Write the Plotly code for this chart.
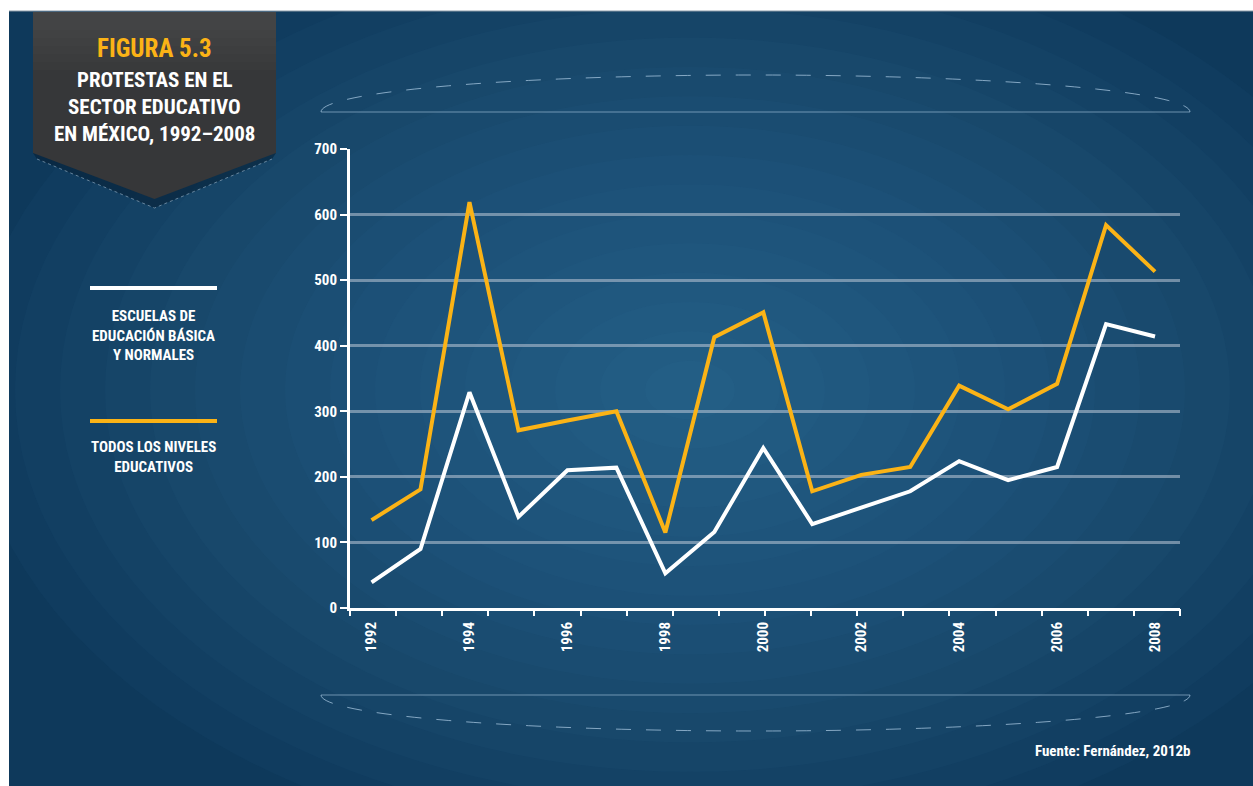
import math
import plotly.graph_objects as go

# ---- data ----
years = list(range(1992, 2009))
escuelas_basica = [39, 90, 329, 139, 210, 214, 53, 116, 244, 128, 153, 178, 224, 195, 215, 433, 414]
todos_niveles = [134, 181, 619, 271, 286, 300, 115, 413, 451, 178, 203, 215, 339, 303, 342, 584, 513]
y_ticks = [0, 100, 200, 300, 400, 500, 600, 700]
x_label_years = [1992, 1994, 1996, 1998, 2000, 2002, 2004, 2006, 2008]
n_minor_ticks = 19

title_top = "FIGURA 5.3"
title_lines = ["PROTESTAS EN EL", "SECTOR EDUCATIVO", "EN MÉXICO, 1992–2008"]
legend1 = "ESCUELAS DE<br>EDUCACIÓN BÁSICA<br>Y NORMALES"
legend2 = "TODOS LOS NIVELES<br>EDUCATIVOS"
source = "Fuente: Fernández, 2012b"

ORANGE = "#fbb316"
WHITE = "#ffffff"
FONT = "Roboto Condensed, Open Sans Condensed, Liberation Sans Narrow, sans-serif"

W, H = 1253, 786
L, R, T, B = 350, 1180, 149, 608  # plot area in pixels


def px(x):
    return (x - L) / (R - L)


def py(y):
    return (B - y) / (B - T)


fig = go.Figure()

fig.add_trace(go.Scatter(x=years, y=escuelas_basica, mode="lines",
                         line=dict(color=WHITE, width=4), name="Escuelas",
                         showlegend=False))
fig.add_trace(go.Scatter(x=years, y=todos_niveles, mode="lines",
                         line=dict(color=ORANGE, width=4), name="Todos",
                         showlegend=False))
# helper trace so the minor-tick axis is rendered
fig.add_trace(go.Scatter(x=[0, n_minor_ticks - 1], y=[0, 0], xaxis="x2", mode="lines",
                         line=dict(width=0), opacity=0, hoverinfo="skip",
                         showlegend=False))

shapes = []
# background panel
shapes.append(dict(type="rect", xref="paper", yref="paper",
                   x0=px(9), x1=px(W), y0=py(H), y1=py(11),
                   fillcolor="#0e395b", line=dict(width=0), layer="below"))
# soft light glow, centred a little left of the middle
gcx, gcy = 690, 390
n_glow = 16
for k in range(n_glow):
    f = 1 - k / n_glow
    rxg = 720 * f
    ryg = 470 * f
    shapes.append(dict(type="circle", xref="paper", yref="paper",
                       x0=px(gcx - rxg), x1=px(gcx + rxg), y0=py(gcy + ryg), y1=py(gcy - ryg),
                       fillcolor="rgba(75,135,185,0.045)", line=dict(width=0),
                       layer="below"))
# white page margins (left and top) drawn over the glow
shapes.append(dict(type="rect", xref="paper", yref="paper",
                   x0=px(-50), x1=px(9), y0=py(H + 50), y1=py(-50),
                   fillcolor="white", line=dict(width=0), layer="below"))
shapes.append(dict(type="rect", xref="paper", yref="paper",
                   x0=px(-50), x1=px(W + 50), y0=py(11), y1=py(-50),
                   fillcolor="white", line=dict(width=0), layer="below"))
shapes.append(dict(type="line", xref="paper", yref="paper",
                   x0=px(9), x1=px(W), y0=py(11), y1=py(11),
                   line=dict(color="#8a9aa8", width=1), layer="below"))

# decorative half-ellipses (top and bottom)
ex0, ex1 = 321, 1190
cx = (ex0 + ex1) / 2
rx = (ex1 - ex0) / 2


def arc_path(base, peak, n=80):
    pts = []
    for i in range(n + 1):
        t = math.pi * i / n
        x = cx - rx * math.cos(t)
        y = base + (peak - base) * math.sin(t)
        pts.append((px(x), py(y)))
    return "M " + " L ".join(f"{a:.5f},{b:.5f}" for a, b in pts)


for base, peak in [(112, 75), (695, 731)]:
    shapes.append(dict(type="path", xref="paper", yref="paper", path=arc_path(base, peak),
                       line=dict(color="rgba(170,200,225,0.75)", width=1, dash="longdash"),
                       layer="below"))
    shapes.append(dict(type="line", xref="paper", yref="paper",
                       x0=px(ex0), x1=px(ex1), y0=py(base), y1=py(base),
                       line=dict(color="rgba(170,200,225,0.6)", width=1), layer="below"))

# title banner
bx0, bx1, btop, bside, btip = 33, 276, 12, 153, 199
bcx = (bx0 + bx1) / 2
shapes.append(dict(type="path", xref="paper", yref="paper",
                   path=(f"M {px(bx0)},{py(bside)} L {px(bx0+4)},{py(bside+6)} L {px(bcx)},{py(btip+9)} "
                         f"L {px(bx1-4)},{py(bside+6)} L {px(bx1)},{py(bside)} Z"),
                   fillcolor="rgba(5,30,50,0.55)", line=dict(width=0),
                   layer="below"))
shapes.append(dict(type="path", xref="paper", yref="paper",
                   path=(f"M {px(bx0+4)},{py(bside+6)} L {px(bcx)},{py(btip+9)} L {px(bx1-4)},{py(bside+6)}"),
                   line=dict(color="rgba(160,185,205,0.6)", width=1, dash="dot"),
                   layer="below"))
shapes.append(dict(type="path", xref="paper", yref="paper",
                   path=(f"M {px(bx0)},{py(btop)} L {px(bx1)},{py(btop)} L {px(bx1)},{py(bside)} "
                         f"L {px(bcx)},{py(btip)} L {px(bx0)},{py(bside)} Z"),
                   fillcolor="#363739", line=dict(width=0), layer="below"))
# subtle lighter top of the banner
for k in range(6):
    shapes.append(dict(type="rect", xref="paper", yref="paper",
                       x0=px(bx0), x1=px(bx1), y0=py(30 + 8 * k), y1=py(btop),
                       fillcolor="rgba(100,102,106,0.07)", line=dict(width=0), layer="below"))

# legend lines
shapes.append(dict(type="line", xref="paper", yref="paper",
                   x0=px(90), x1=px(217), y0=py(288), y1=py(288),
                   line=dict(color=WHITE, width=4)))
shapes.append(dict(type="line", xref="paper", yref="paper",
                   x0=px(90), x1=px(217), y0=py(421), y1=py(421),
                   line=dict(color=ORANGE, width=4)))

annotations = []
annotations.append(dict(xref="paper", yref="paper", x=px(bcx), y=py(48), text=title_top,
                        showarrow=False, font=dict(family=FONT, size=25, color=ORANGE, weight="bold"),
                        xanchor="center", yanchor="middle"))
for i, line in enumerate(title_lines):
    annotations.append(dict(xref="paper", yref="paper", x=px(bcx), y=py(80 + 27 * i), text=line,
                            showarrow=False, font=dict(family=FONT, size=21, color=WHITE, weight="bold"),
                            xanchor="center", yanchor="middle"))
annotations.append(dict(xref="paper", yref="paper", x=px(153), y=py(335), text=legend1,
                        showarrow=False, font=dict(family=FONT, size=15, color=WHITE, weight="bold"),
                        xanchor="center", yanchor="middle", align="center"))
annotations.append(dict(xref="paper", yref="paper", x=px(153), y=py(457), text=legend2,
                        showarrow=False, font=dict(family=FONT, size=15, color=WHITE, weight="bold"),
                        xanchor="center", yanchor="middle", align="center"))
annotations.append(dict(xref="paper", yref="paper", x=px(1193), y=py(751), text=source,
                        showarrow=False, font=dict(family=FONT, size=15, color=WHITE, weight="bold"),
                        xanchor="right", yanchor="middle"))

fig.update_layout(
    width=W, height=H,
    margin=dict(l=L, r=W - R, t=T, b=H - B, pad=0),
    paper_bgcolor="white",
    plot_bgcolor="rgba(0,0,0,0)",
    shapes=shapes,
    annotations=annotations,
    showlegend=False,
    xaxis=dict(range=[1991.56, 2008.51], tickvals=x_label_years, ticktext=[str(v) for v in x_label_years],
               tickangle=-90, showgrid=False, zeroline=False, showline=True,
               linecolor=WHITE, linewidth=3, ticks="", ticklabelstandoff=5,
               tickfont=dict(family=FONT, size=15, color=WHITE, weight="bold")),
    xaxis2=dict(overlaying="x", anchor="y", side="bottom", range=[0, n_minor_ticks - 1],
                tickvals=list(range(n_minor_ticks)), showticklabels=False,
                ticks="outside", ticklen=7, tickwidth=2, tickcolor=WHITE,
                showgrid=False, zeroline=False, showline=False),
    yaxis=dict(range=[0, 700], tickvals=y_ticks, showgrid=True,
               gridcolor="rgba(190,200,215,0.55)", gridwidth=3, zeroline=False,
               showline=True, linecolor=WHITE, linewidth=3,
               ticks="outside", ticklen=7, tickwidth=2, tickcolor=WHITE,
               tickfont=dict(family=FONT, size=15, color=WHITE, weight="bold")),
)

fig.write_html("out.html")
